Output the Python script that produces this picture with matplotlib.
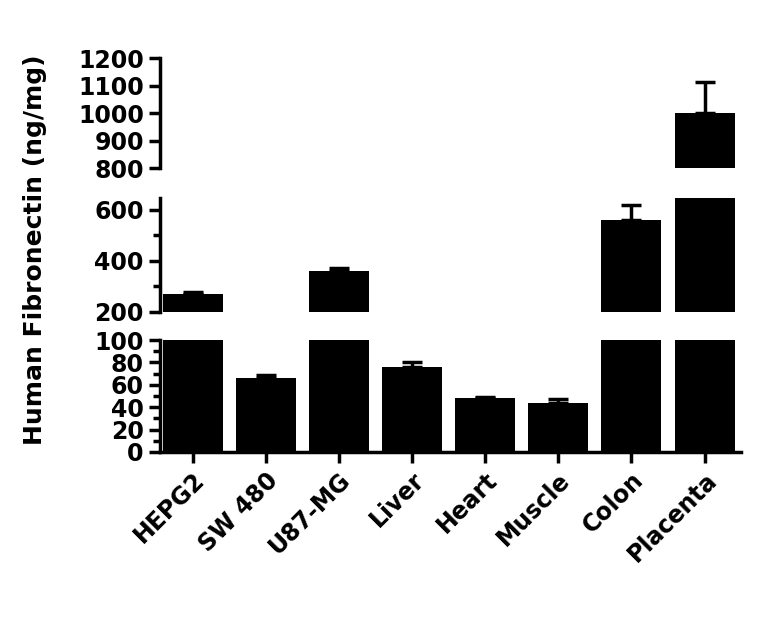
import matplotlib
matplotlib.use("Agg")
import matplotlib.pyplot as plt
import numpy as np

categories = ["HEPG2", "SW 480", "U87-MG", "Liver", "Heart", "Muscle", "Colon", "Placenta"]
values = [270, 66, 360, 76, 48, 44, 560, 1000]
errors = [6, 3, 12, 4, 1, 3, 60, 115]

plt.rcParams['font.family'] = ['DejaVu Sans']
plt.rcParams['font.weight'] = 'bold'
fig = plt.figure(figsize=(7.68, 6.25), dpi=100)
L, W = 0.208, 0.757
axb = fig.add_axes([L, 0.277, W, 0.179])
axm = fig.add_axes([L, 0.501, W, 0.182])
axt = fig.add_axes([L, 0.731, W, 0.176])
x = np.arange(len(categories))
ranges = [(axb, 0, 100), (axm, 200, 645), (axt, 800, 1200)]
for ax, lo, hi in ranges:
    ax.bar(x, values, width=0.82, color='black', zorder=2)
    ax.errorbar(x, values, yerr=[np.zeros(len(errors)), errors], fmt='none',
                ecolor='black', elinewidth=2.5, capsize=7, capthick=2.5, zorder=1)
    ax.set_ylim(lo, hi)
    ax.set_xlim(-0.45, len(categories) - 0.5)
    for s in ['top', 'right']:
        ax.spines[s].set_visible(False)
    ax.spines['left'].set_linewidth(2.5)
    ax.tick_params(axis='y', width=2.5, length=8, labelsize=17)
    ax.tick_params(axis='y', which='minor', width=2.5, length=5)
    ax.patch.set_alpha(0)
for ax in (axm, axt):
    ax.spines['bottom'].set_visible(False)
    ax.set_xticks([])
axb.spines['bottom'].set_linewidth(2.5)
axb.set_yticks(range(0, 101, 20))
axb.set_yticks(range(0, 101, 10), minor=True)
axm.set_yticks([200, 400, 600])
axm.set_yticks([300, 500], minor=True)
axt.set_yticks(range(800, 1201, 100))
axb.set_xticks(x)
axb.set_xticklabels(categories, rotation=45, ha='right', rotation_mode='anchor', fontsize=17)
axb.tick_params(axis='x', width=2.5, length=8)
for ax in (axb, axm, axt):
    for lab in ax.get_yticklabels() + ax.get_xticklabels():
        lab.set_fontweight('bold')
fig.text(0.045, 0.6, "Human Fibronectin (ng/mg)", rotation=90, ha='center', va='center',
         fontsize=18, fontweight='bold')
fig.savefig("out.png", dpi=100)
